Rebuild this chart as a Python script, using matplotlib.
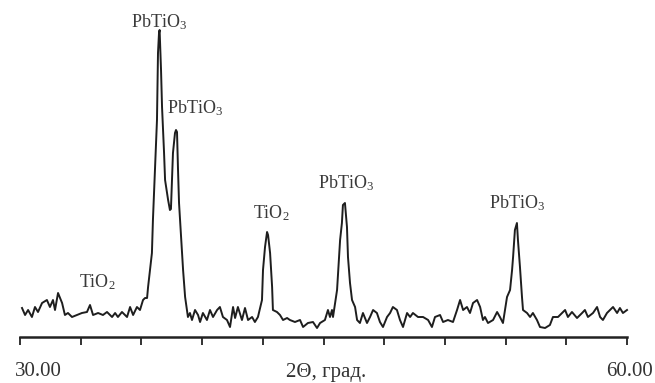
import matplotlib
matplotlib.use("Agg")
import matplotlib.pyplot as plt
import numpy as np

# XRD pattern, 2-theta in degrees, intensity in arbitrary units
two_theta = [30.10, 30.25, 30.40, 30.59, 30.74, 30.89, 31.09, 31.33, 31.48, 31.63,
             31.73, 31.88, 32.08, 32.22, 32.37, 32.57, 32.82, 33.06, 33.31, 33.46,
             33.61, 33.86, 34.10, 34.30, 34.55, 34.70, 34.84, 35.04, 35.29, 35.44,
             35.59, 35.78, 35.93, 36.08, 36.18, 36.28, 36.33, 36.52, 36.57, 36.67,
             36.77, 36.82, 36.87, 36.90, 36.97, 37.02, 37.12, 37.17, 37.32, 37.41,
             37.46, 37.56, 37.66, 37.71, 37.76, 37.81, 37.86, 37.96, 38.06, 38.16,
             38.25, 38.30, 38.40, 38.50, 38.65, 38.80, 38.90, 39.04, 39.24, 39.39,
             39.54, 39.74, 39.88, 40.03, 40.23, 40.38, 40.53, 40.63, 40.77, 40.97,
             41.12, 41.27, 41.47, 41.61, 41.76, 41.96, 42.01, 42.11, 42.21, 42.26,
             42.36, 42.46, 42.50, 42.70, 42.85, 43.00, 43.20, 43.34, 43.59, 43.84,
             43.99, 44.23, 44.48, 44.68, 44.83, 45.07, 45.22, 45.32, 45.42, 45.47,
             45.67, 45.72, 45.82, 45.91, 45.96, 46.06, 46.16, 46.21, 46.31, 46.41,
             46.56, 46.66, 46.80, 46.95, 47.15, 47.30, 47.45, 47.64, 47.79, 47.94,
             48.14, 48.29, 48.43, 48.63, 48.78, 48.93, 49.13, 49.28, 49.42, 49.67,
             49.92, 50.17, 50.36, 50.51, 50.76, 50.91, 51.15, 51.40, 51.60, 51.75,
             51.90, 52.09, 52.24, 52.39, 52.59, 52.74, 52.88, 52.98, 53.13, 53.38,
             53.58, 53.72, 53.87, 54.07, 54.22, 54.32, 54.37, 54.46, 54.56, 54.61,
             54.71, 54.81, 54.86, 55.06, 55.21, 55.35, 55.55, 55.70, 55.95, 56.19,
             56.34, 56.59, 56.79, 56.94, 57.08, 57.28, 57.53, 57.78, 57.92, 58.07,
             58.32, 58.52, 58.67, 58.81, 59.01, 59.16, 59.31, 59.51, 59.65, 59.80,
             60.00]
intensity = [29, 22, 27, 20, 30, 25, 34, 37, 30, 37,
             27, 44, 34, 22, 24, 20, 22, 24, 25, 32,
             22, 24, 22, 25, 20, 24, 20, 25, 20, 30,
             22, 30, 27, 37, 39, 39, 50, 84, 117, 167,
             217, 284, 304, 307, 267, 230, 184, 157, 137, 127,
             128, 184, 204, 207, 205, 167, 134, 100, 67, 40,
             27, 20, 24, 17, 27, 22, 15, 24, 17, 27,
             20, 27, 30, 20, 17, 10, 30, 19, 30, 17,
             29, 17, 20, 15, 20, 37, 67, 90, 105, 102,
             84, 50, 27, 25, 22, 17, 19, 17, 15, 17,
             10, 14, 15, 9, 14, 17, 27, 20, 27, 20,
             47, 64, 97, 114, 132, 134, 110, 80, 54, 37,
             30, 17, 14, 24, 14, 20, 27, 24, 15, 10,
             20, 24, 30, 27, 17, 10, 24, 20, 24, 20,
             20, 17, 10, 20, 22, 15, 17, 15, 27, 37,
             27, 30, 24, 34, 37, 30, 17, 20, 14, 17,
             25, 20, 14, 40, 47, 67, 80, 107, 114, 97,
             70, 40, 27, 24, 20, 24, 17, 10, 9, 12,
             20, 20, 24, 27, 20, 25, 19, 24, 27, 20,
             24, 30, 20, 17, 24, 27, 30, 24, 29, 24,
             27]

# phase labels: text, 2-theta, intensity, alignment
labels = [("PbTiO$_3$", 36.87, 315, "center"),
          ("PbTiO$_3$", 37.27, 229, "left"),
          ("TiO$_2$", 42.41, 124, "center"),
          ("PbTiO$_3$", 46.11, 154, "center"),
          ("PbTiO$_3$", 54.56, 134, "center"),
          ("TiO$_2$", 33.81, 55, "center")]

plt.rcParams['font.family'] = ['Liberation Serif', 'DejaVu Serif']
plt.rcParams['mathtext.fontset'] = 'custom'
plt.rcParams['mathtext.rm'] = 'Liberation Serif'
plt.rcParams['mathtext.it'] = 'Liberation Serif'

fig = plt.figure(figsize=(6.55, 3.83), dpi=100)
ax = fig.add_axes([20/655, 46/383, 607/655, 337/383])

ax.plot(two_theta, intensity, color='#1e1e1e', linewidth=1.4, clip_on=False)

for text, x, y, ha in labels:
    ax.text(x, y, text, ha=ha, va='center', fontsize=13, color='#3a3a3a')

ax.set_xlim(30, 60)
ax.set_ylim(0, 337)
ax.set_xticks(np.arange(30, 61, 3))
ax.set_yticks([])
ax.tick_params(axis='x', direction='out', length=6, width=1.3, color='#222222', labelbottom=False)
for side in ['top', 'right', 'left']:
    ax.spines[side].set_visible(False)
ax.spines['bottom'].set_linewidth(1.8)
ax.spines['bottom'].set_color('#222222')

fig.text(15/655, 1 - 372/383, "30.00", ha='left', va='center', fontsize=15, color='#333333')
fig.text(326/655, 1 - 372/383, "2Θ, град.", ha='center', va='center', fontsize=15, color='#333333')
fig.text(653/655, 1 - 372/383, "60.00", ha='right', va='center', fontsize=15, color='#333333')

fig.savefig("out.png", dpi=100)
